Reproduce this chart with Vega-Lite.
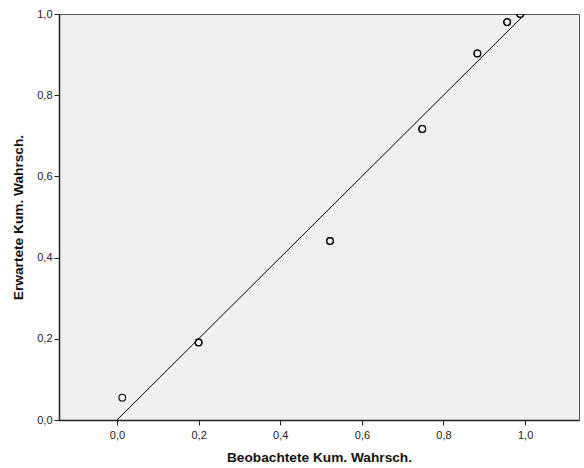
{
  "$schema": "https://vega.github.io/schema/vega-lite/v6.json",
  "width": 520,
  "height": 406,
  "autosize": {"type": "none"},
  "padding": {"left": 59, "top": 14, "right": 5, "bottom": 48},
  "background": "white",
  "config": {
    "view": {"fill": "#f0f0f0", "stroke": "#555555", "strokeWidth": 1},
    "font": "Liberation Sans"
  },
  "datasets": {
    "pts": [
      {"obs": 0.013, "exp": 0.055},
      {"obs": 0.2, "exp": 0.191},
      {"obs": 0.2, "exp": 0.191},
      {"obs": 0.522, "exp": 0.441},
      {"obs": 0.522, "exp": 0.441},
      {"obs": 0.748, "exp": 0.717},
      {"obs": 0.748, "exp": 0.717},
      {"obs": 0.883, "exp": 0.903},
      {"obs": 0.883, "exp": 0.903},
      {"obs": 0.956, "exp": 0.98},
      {"obs": 0.956, "exp": 0.98},
      {"obs": 0.988, "exp": 1.0},
      {"obs": 0.988, "exp": 1.0}
    ],
    "diag": [
      {"obs": 0, "exp": 0},
      {"obs": 1, "exp": 1}
    ]
  },
  "layer": [
    {
      "data": {"name": "diag"},
      "mark": {"type": "line", "color": "black", "strokeWidth": 1, "clip": true},
      "encoding": {
        "x": {"field": "obs", "type": "quantitative"},
        "y": {"field": "exp", "type": "quantitative"}
      }
    },
    {
      "data": {"name": "pts"},
      "mark": {"type": "point", "shape": "circle", "filled": false, "color": "black", "size": 45, "strokeWidth": 1.1, "opacity": 1, "clip": true},
      "encoding": {
        "x": {
          "field": "obs", "type": "quantitative",
          "scale": {"domain": [-0.142, 1.132], "nice": false, "zero": false},
          "axis": {
            "title": "Beobachtete Kum. Wahrsch.",
            "values": [0, 0.2, 0.4, 0.6, 0.8, 1.0],
            "labelExpr": "replace(format(datum.value, '.1f'), '.', ',')",
            "grid": false,
            "domainColor": "#222222",
            "domainWidth": 1.5,
            "tickColor": "#222222",
            "tickSize": 5,
            "labelFontSize": 11,
            "labelColor": "#222222",
            "labelPadding": 4,
            "titleFontSize": 13.7,
            "titleFontWeight": "bold",
            "titleColor": "#111111",
            "titlePadding": 10
          }
        },
        "y": {
          "field": "exp", "type": "quantitative",
          "scale": {"domain": [0, 1], "nice": false},
          "axis": {
            "title": "Erwartete Kum. Wahrsch.",
            "values": [0, 0.2, 0.4, 0.6, 0.8, 1.0],
            "labelExpr": "replace(format(datum.value, '.1f'), '.', ',')",
            "grid": false,
            "domainColor": "#222222",
            "domainWidth": 1.5,
            "tickColor": "#222222",
            "tickSize": 5,
            "labelFontSize": 11,
            "labelColor": "#222222",
            "labelPadding": 2,
            "titleFontSize": 13.7,
            "titleFontWeight": "bold",
            "titleColor": "#111111",
            "titlePadding": 11
          }
        }
      }
    }
  ]
}
